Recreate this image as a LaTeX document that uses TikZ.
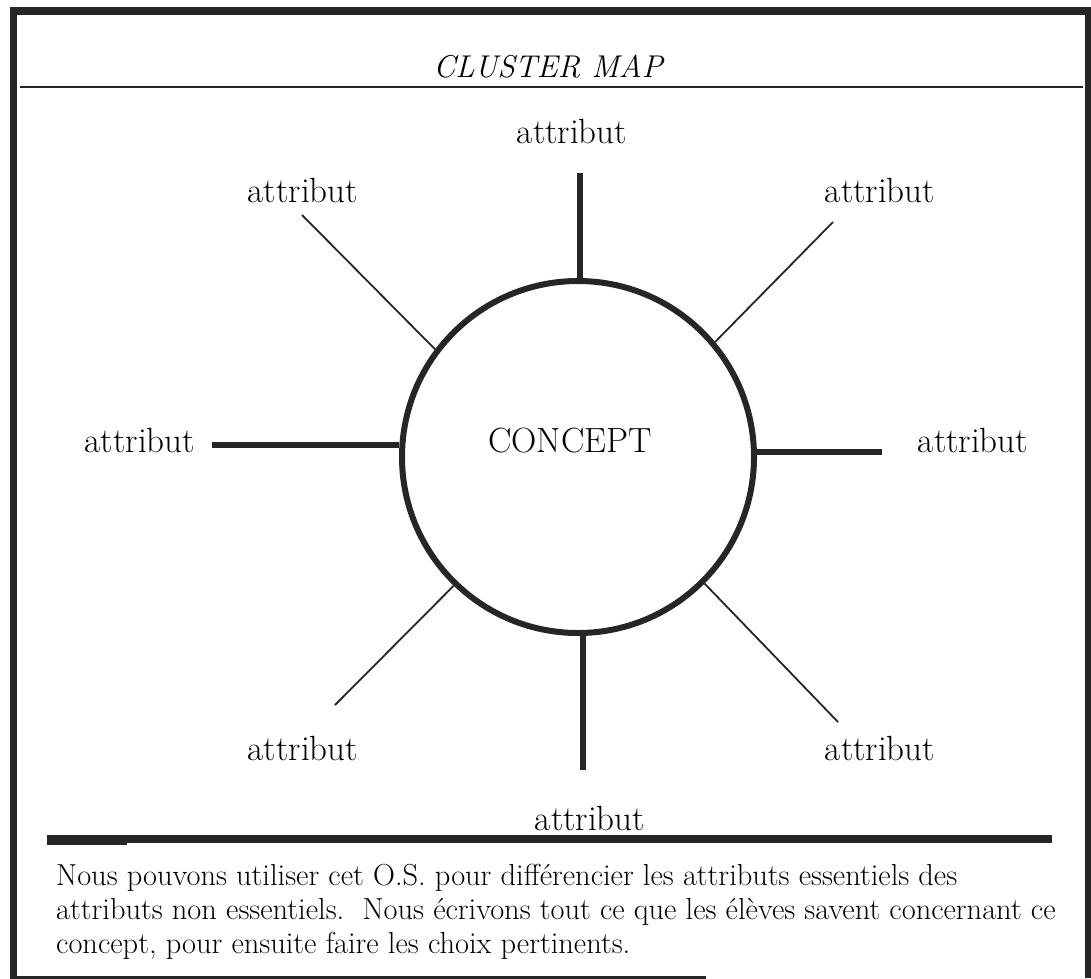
\documentclass[tikz,border=0pt]{standalone}

\tikzset{
  lbl/.style={anchor=base,inner sep=0pt,font=\fontsize{35}{42}\selectfont},
  hub/.style={circle,draw=black!85,line width=6pt,minimum size=352pt,inner sep=0pt},
  thickspoke/.style={draw=black!85,line width=6pt},
  thinspoke/.style={draw=black!85,line width=1.8pt},
  para/.style={anchor=base west,inner sep=0pt,font=\fontsize{30.4}{36}\selectfont},
  rule/.style={draw=black!85}
}

\begin{document}
\begin{tikzpicture}[x=1pt,y=-1pt]
\useasboundingbox (0,0) rectangle (1091,978);

% frame
\draw[rule,line width=8pt] (10,11) -- (1091,11);
\draw[rule,line width=7pt] (13.5,7) -- (13.5,978);
\draw[rule,line width=6pt] (1088,7) -- (1088,978);
\draw[rule,line width=3pt] (10,977) -- (706,977);
\draw[rule,line width=2.5pt] (20,87) -- (1083,87);
\draw[rule,line width=8pt] (47,839) -- (1052,839);
\draw[rule,line width=2pt] (47,844) -- (127,844);

% title
\node (title) [anchor=base,inner sep=0pt,font=\fontsize{31.5}{38}\selectfont\itshape] at (548,77) {CLUSTER MAP};

% nodes
\node (concept) [hub] at (578,457) {};
\node (ctext) [lbl] at (570,452) {CONCEPT};
\node (at) [lbl] at (572,143) {attribut};
\node (aul) [lbl] at (303,202) {attribut};
\node (aur) [lbl] at (880,202) {attribut};
\node (al) [lbl] at (140,452) {attribut};
\node (ar) [lbl] at (973,452) {attribut};
\node (all) [lbl] at (303,760) {attribut};
\node (alr) [lbl] at (880,760) {attribut};
\node (ab) [lbl] at (590,830) {attribut};

% spoke ends
\coordinate (st) at (580,173);
\coordinate (sb) at (583,770);
\coordinate (sl) at (212,445);
\coordinate (sr) at (882,452);
\coordinate (sul) at (302,215);
\coordinate (sur) at (833,222);
\coordinate (sll) at (335,705);
\coordinate (slr) at (838,722);

% spokes
\draw[thickspoke] (st) -- (st |- concept.north);
\draw[thickspoke] (sb) -- (sb |- concept.south);
\draw[thickspoke] (sl) -- (sl -| concept.west);
\draw[thickspoke] (sr) -- (sr -| concept.east);
\draw[thinspoke] (concept.143) -- (sul);
\draw[thinspoke] (concept.40) -- (sur);
\draw[thinspoke] (concept.226) -- (sll);
\draw[thinspoke] (concept.315) -- (slr);

% note
\node (p1) [para] at (56,885) {Nous pouvons utiliser cet O.S. pour différencier les attributs essentiels des};
\node (p2) [para] at (56,919) {attributs non essentiels.\ \ Nous écrivons tout ce que les élèves savent concernant ce};
\node (p3) [para] at (56,953) {concept, pour ensuite faire les choix pertinents.};
\end{tikzpicture}
\end{document}
